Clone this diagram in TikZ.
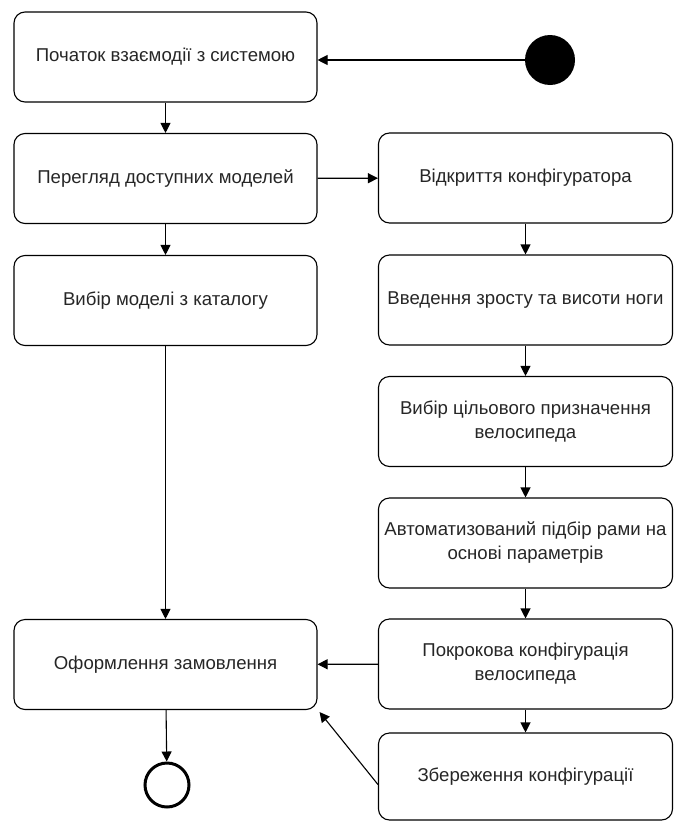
\documentclass[tikz,border=0pt]{standalone}
\usepackage{fontspec}
\setmainfont{Liberation Sans}
\usetikzlibrary{arrows.meta}
\begin{document}
\begin{tikzpicture}[x=1pt,y=-1pt,
  act/.style={draw, line width=1.1pt, rounded corners=11pt, align=center,
    minimum height=90pt, inner sep=0pt, text=black!85,
    font=\fontsize{18.6}{24}\selectfont},
  lbox/.style={act, minimum width=303pt},
  rbox/.style={act, minimum width=294pt},
  flow/.style={draw, line width=1.1pt, -{Triangle[length=10pt,width=10pt]}}
]
\useasboundingbox (0,0) rectangle (674,822);
\node[lbox] (l1) at (165.5,57) {Початок взаємодії з системою};
\node[lbox] (l2) at (165.5,178.5) {Перегляд доступних моделей};
\node[lbox] (l3) at (165.5,300.5) {Вибір моделі з каталогу};
\node[lbox] (l4) at (165.5,664.5) {Оформлення замовлення};
\node[rbox] (r1) at (525.5,178) {Відкриття конфігуратора};
\node[rbox] (r2) at (525.5,300) {Введення зросту та висоти ноги};
\node[rbox] (r3) at (525.5,421.5) {Вибір цільового призначення\\велосипеда};
\node[rbox] (r4) at (525.5,543) {Автоматизований підбір рами на\\основі параметрів};
\node[rbox] (r5) at (525.5,664) {Покрокова конфігурація\\велосипеда};
\node[rbox, minimum height=87pt] (r6) at (525.5,776.5) {Збереження конфігурації};
\node[circle, fill=black, minimum size=50pt, inner sep=0pt] (start) at (550,60) {};
\node[circle, draw, line width=3pt, minimum size=44pt, inner sep=0pt] (end) at (167,785) {};
\coordinate (s6) at ([yshift=-8pt]r6.west);
\draw[flow] (start) -- (start -| l1.east);
\draw[flow] (l1) -- (l2);
\draw[flow] (l2) -- (l3);
\draw[flow] (l3) -- (l4);
\draw[flow] (l4) -- (end);
\draw[flow] (l2) -- (r1);
\draw[flow] (r1) -- (r2);
\draw[flow] (r2) -- (r3);
\draw[flow] (r3) -- (r4);
\draw[flow] (r4) -- (r5);
\draw[flow] (r5) -- (r6);
\draw[flow] (r5) -- (l4);
\draw[flow] (s6) -- ([shift={(2pt,-2pt)}]l4.south east);
\end{tikzpicture}
\end{document}
